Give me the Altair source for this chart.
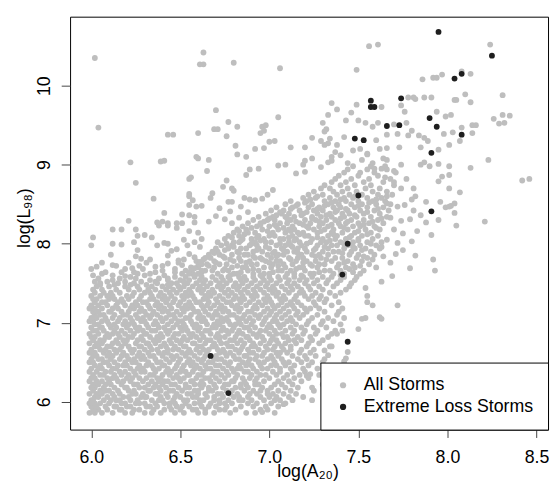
import altair as alt
import pandas as pd

# ---------------- data ----------------
series_names = ["All Storms", "Extreme Loss Storms"]
series_colors = ["#BEBEBE", "#1E1E1E"]

x_ticks = [6.0, 6.5, 7.0, 7.5, 8.0, 8.5]
y_ticks = [6, 7, 8, 9, 10]

# extreme-loss storms (black points)
extreme_x = [7.95, 8.25, 8.08, 8.04, 7.74, 7.57, 7.57, 7.59, 7.90, 7.73, 7.66, 7.94,
             8.08, 7.48, 7.53, 7.91, 7.50, 7.91, 7.44, 7.41, 7.44, 6.67, 6.77]
extreme_y = [10.68, 10.38, 10.15, 10.09, 9.84, 9.81, 9.73, 9.73, 9.59, 9.50, 9.49, 9.48,
             9.38, 9.33, 9.31, 9.15, 8.61, 8.41, 8.00, 7.61, 6.76, 6.58, 6.11]

# all storms, dense part of the cloud: (log L98 level, [log A20 values])
gray_rows = [
    (5.86, [5.99, 6.02, 6.06, 6.12, 6.19, 6.23, 6.30, 6.34, 6.39, 6.47, 6.52, 6.60, 6.64, 6.69, 6.78, 6.87, 6.92, 7.03]),
    (5.90, [6.01, 6.04, 6.09, 6.16, 6.17, 6.24, 6.27, 6.35, 6.41, 6.45, 6.50, 6.57, 6.59, 6.64, 6.72, 6.75, 6.81, 6.95, 6.99]),
    (5.94, [6.00, 6.03, 6.08, 6.13, 6.14, 6.20, 6.22, 6.31, 6.33, 6.37, 6.44, 6.48, 6.51, 6.55, 6.62, 6.66, 6.70, 6.76, 6.84, 6.91, 6.98, 7.05]),
    (5.98, [5.99, 6.02, 6.05, 6.10, 6.17, 6.19, 6.25, 6.27, 6.30, 6.36, 6.41, 6.44, 6.47, 6.53, 6.58, 6.61, 6.67, 6.72, 6.75, 6.79, 6.88, 6.93, 7.01, 7.09]),
    (6.02, [6.00, 6.01, 6.07, 6.11, 6.14, 6.16, 6.22, 6.26, 6.34, 6.38, 6.40, 6.46, 6.52, 6.54, 6.61, 6.63, 6.69, 6.72, 6.77, 6.83, 6.85, 6.90, 6.97, 7.03, 7.06, 7.13, 7.24]),
    (6.06, [6.02, 6.04, 6.09, 6.13, 6.18, 6.21, 6.28, 6.30, 6.31, 6.39, 6.43, 6.47, 6.50, 6.57, 6.59, 6.65, 6.69, 6.74, 6.80, 6.83, 6.88, 6.95, 7.00, 7.04, 7.11, 7.19]),
    (6.10, [5.99, 6.03, 6.06, 6.12, 6.16, 6.23, 6.25, 6.29, 6.36, 6.37, 6.42, 6.48, 6.54, 6.56, 6.60, 6.64, 6.71, 6.73, 6.78, 6.82, 6.89, 6.93, 6.99, 7.02, 7.08, 7.15]),
    (6.14, [6.01, 6.05, 6.08, 6.10, 6.15, 6.21, 6.24, 6.32, 6.33, 6.39, 6.44, 6.46, 6.51, 6.58, 6.60, 6.66, 6.68, 6.76, 6.79, 6.86, 6.91, 6.95, 6.99, 7.05, 7.12, 7.25]),
    (6.18, [6.00, 6.02, 6.07, 6.13, 6.19, 6.20, 6.27, 6.30, 6.35, 6.38, 6.42, 6.49, 6.53, 6.55, 6.62, 6.66, 6.70, 6.74, 6.81, 6.84, 6.88, 6.96, 7.01, 7.09, 7.16]),
    (6.22, [6.01, 6.04, 6.08, 6.11, 6.17, 6.24, 6.26, 6.32, 6.36, 6.40, 6.45, 6.47, 6.53, 6.58, 6.61, 6.63, 6.69, 6.75, 6.77, 6.84, 6.87, 6.92, 6.94, 7.03, 7.07, 7.13, 7.30]),
    (6.26, [5.99, 6.03, 6.06, 6.10, 6.15, 6.18, 6.22, 6.29, 6.34, 6.38, 6.41, 6.43, 6.50, 6.56, 6.57, 6.62, 6.67, 6.72, 6.79, 6.80, 6.86, 6.92, 6.97, 7.05, 7.11, 7.18]),
    (6.30, [6.00, 6.02, 6.09, 6.12, 6.14, 6.20, 6.23, 6.27, 6.31, 6.37, 6.39, 6.46, 6.49, 6.52, 6.59, 6.64, 6.66, 6.70, 6.75, 6.81, 6.85, 6.89, 6.93, 7.00, 7.08, 7.14, 7.22]),
    (6.34, [6.01, 6.05, 6.07, 6.13, 6.17, 6.21, 6.25, 6.33, 6.35, 6.40, 6.44, 6.48, 6.54, 6.55, 6.60, 6.62, 6.68, 6.73, 6.77, 6.82, 6.90, 6.95, 6.98, 7.04, 7.10, 7.17, 7.28]),
    (6.38, [5.99, 6.03, 6.08, 6.11, 6.16, 6.19, 6.24, 6.28, 6.30, 6.36, 6.42, 6.45, 6.50, 6.53, 6.57, 6.63, 6.69, 6.71, 6.76, 6.80, 6.86, 6.88, 6.93, 7.02, 7.06, 7.13, 7.20]),
    (6.42, [6.00, 6.04, 6.06, 6.12, 6.14, 6.22, 6.26, 6.29, 6.35, 6.38, 6.43, 6.47, 6.51, 6.58, 6.61, 6.65, 6.67, 6.74, 6.79, 6.82, 6.84, 6.91, 6.96, 6.99, 7.06, 7.12, 7.19, 7.27]),
    (6.46, [6.02, 6.05, 6.10, 6.15, 6.18, 6.20, 6.27, 6.31, 6.34, 6.40, 6.41, 6.48, 6.52, 6.56, 6.59, 6.64, 6.70, 6.72, 6.77, 6.83, 6.87, 6.90, 6.95, 7.01, 7.04, 7.09, 7.14, 7.22]),
    (6.50, [5.99, 6.01, 6.07, 6.09, 6.13, 6.19, 6.23, 6.25, 6.32, 6.37, 6.39, 6.44, 6.49, 6.54, 6.57, 6.62, 6.66, 6.68, 6.75, 6.78, 6.85, 6.88, 6.94, 6.97, 7.03, 7.08, 7.11, 7.18, 7.24]),
    (6.54, [6.00, 6.04, 6.06, 6.11, 6.16, 6.21, 6.24, 6.28, 6.30, 6.36, 6.42, 6.46, 6.50, 6.55, 6.60, 6.63, 6.69, 6.71, 6.73, 6.81, 6.83, 6.89, 6.92, 6.99, 7.02, 7.07, 7.16, 7.21, 7.31]),
    (6.58, [6.01, 6.03, 6.09, 6.12, 6.17, 6.20, 6.26, 6.29, 6.33, 6.35, 6.40, 6.45, 6.48, 6.53, 6.58, 6.64, 6.67, 6.70, 6.76, 6.80, 6.86, 6.87, 6.93, 6.96, 7.01, 7.05, 7.13, 7.20, 7.26]),
    (6.62, [5.99, 6.02, 6.07, 6.10, 6.14, 6.18, 6.23, 6.27, 6.32, 6.38, 6.41, 6.43, 6.51, 6.54, 6.56, 6.61, 6.65, 6.72, 6.75, 6.78, 6.83, 6.89, 6.91, 6.97, 7.04, 7.06, 7.10, 7.17, 7.23]),
    (6.66, [6.00, 6.05, 6.08, 6.13, 6.16, 6.22, 6.24, 6.30, 6.34, 6.37, 6.43, 6.46, 6.49, 6.55, 6.59, 6.63, 6.66, 6.71, 6.74, 6.81, 6.84, 6.88, 6.94, 6.99, 7.02, 7.08, 7.12, 7.18, 7.25]),
    (6.70, [6.02, 6.04, 6.09, 6.11, 6.17, 6.21, 6.27, 6.28, 6.33, 6.39, 6.42, 6.47, 6.52, 6.53, 6.60, 6.62, 6.68, 6.70, 6.77, 6.79, 6.85, 6.90, 6.92, 6.98, 7.03, 7.07, 7.12, 7.21, 7.34]),
    (6.74, [5.99, 6.03, 6.06, 6.12, 6.15, 6.19, 6.25, 6.31, 6.32, 6.36, 6.41, 6.45, 6.50, 6.57, 6.58, 6.64, 6.69, 6.73, 6.76, 6.82, 6.86, 6.91, 6.95, 7.00, 7.05, 7.09, 7.15, 7.22, 7.28]),
    (6.78, [6.01, 6.05, 6.07, 6.14, 6.18, 6.20, 6.26, 6.29, 6.35, 6.38, 6.44, 6.48, 6.51, 6.54, 6.61, 6.65, 6.67, 6.72, 6.78, 6.80, 6.84, 6.89, 6.97, 7.01, 7.04, 7.11, 7.14, 7.18, 7.24, 7.30]),
    (6.82, [6.00, 6.02, 6.08, 6.10, 6.16, 6.21, 6.23, 6.28, 6.33, 6.37, 6.40, 6.46, 6.52, 6.56, 6.59, 6.63, 6.70, 6.72, 6.75, 6.81, 6.87, 6.88, 6.93, 6.96, 7.02, 7.08, 7.10, 7.16, 7.23, 7.33]),
    (6.86, [5.99, 6.04, 6.09, 6.12, 6.15, 6.19, 6.24, 6.30, 6.31, 6.39, 6.43, 6.47, 6.49, 6.55, 6.57, 6.62, 6.67, 6.71, 6.77, 6.82, 6.85, 6.91, 6.94, 7.00, 7.04, 7.07, 7.13, 7.19, 7.26, 7.35]),
    (6.90, [6.01, 6.03, 6.07, 6.13, 6.17, 6.22, 6.26, 6.29, 6.34, 6.36, 6.42, 6.44, 6.51, 6.54, 6.60, 6.64, 6.66, 6.73, 6.76, 6.79, 6.83, 6.89, 6.95, 6.98, 7.03, 7.09, 7.14, 7.20, 7.27, 7.37]),
    (6.94, [6.00, 6.05, 6.06, 6.11, 6.14, 6.20, 6.25, 6.27, 6.32, 6.38, 6.41, 6.46, 6.50, 6.53, 6.58, 6.61, 6.68, 6.70, 6.74, 6.80, 6.86, 6.88, 6.92, 6.99, 7.01, 7.06, 7.12, 7.18, 7.25, 7.32]),
    (6.98, [6.02, 6.04, 6.10, 6.13, 6.18, 6.21, 6.24, 6.31, 6.35, 6.37, 6.43, 6.48, 6.52, 6.57, 6.59, 6.65, 6.69, 6.72, 6.78, 6.81, 6.84, 6.90, 6.96, 7.00, 7.05, 7.08, 7.15, 7.21, 7.29, 7.40]),
    (7.02, [5.99, 6.01, 6.06, 6.09, 6.15, 6.19, 6.23, 6.28, 6.30, 6.36, 6.40, 6.45, 6.49, 6.51, 6.56, 6.62, 6.64, 6.71, 6.74, 6.77, 6.83, 6.87, 6.91, 6.97, 7.02, 7.04, 7.10, 7.13, 7.22, 7.30, 7.36]),
    (7.06, [6.00, 6.03, 6.08, 6.12, 6.16, 6.22, 6.26, 6.29, 6.33, 6.39, 6.42, 6.47, 6.53, 6.55, 6.60, 6.63, 6.68, 6.73, 6.76, 6.82, 6.85, 6.89, 6.94, 6.98, 7.03, 7.07, 7.12, 7.17, 7.24, 7.33, 7.42]),
    (7.10, [6.02, 6.05, 6.07, 6.13, 6.18, 6.20, 6.25, 6.31, 6.34, 6.37, 6.44, 6.46, 6.50, 6.56, 6.61, 6.66, 6.69, 6.71, 6.78, 6.80, 6.86, 6.92, 6.95, 7.00, 7.04, 7.09, 7.15, 7.19, 7.27, 7.38]),
    (7.14, [6.01, 6.04, 6.10, 6.11, 6.17, 6.21, 6.27, 6.30, 6.35, 6.40, 6.43, 6.48, 6.52, 6.58, 6.60, 6.64, 6.70, 6.74, 6.77, 6.83, 6.88, 6.90, 6.97, 7.01, 7.06, 7.11, 7.16, 7.21, 7.31, 7.39]),
    (7.18, [5.99, 6.02, 6.06, 6.12, 6.15, 6.22, 6.24, 6.28, 6.33, 6.38, 6.41, 6.45, 6.51, 6.54, 6.57, 6.63, 6.67, 6.72, 6.75, 6.81, 6.84, 6.91, 6.93, 6.99, 7.03, 7.08, 7.14, 7.20, 7.23, 7.28, 7.41]),
    (7.22, [6.00, 6.04, 6.09, 6.14, 6.19, 6.23, 6.26, 6.32, 6.36, 6.39, 6.44, 6.49, 6.53, 6.56, 6.62, 6.65, 6.69, 6.73, 6.79, 6.82, 6.87, 6.92, 6.96, 7.02, 7.05, 7.10, 7.13, 7.18, 7.26, 7.35]),
    (7.26, [6.02, 6.06, 6.08, 6.15, 6.18, 6.25, 6.29, 6.31, 6.37, 6.42, 6.46, 6.50, 6.55, 6.59, 6.61, 6.66, 6.71, 6.76, 6.78, 6.84, 6.89, 6.94, 6.98, 7.01, 7.07, 7.12, 7.16, 7.25, 7.31, 7.39]),
    (7.30, [6.01, 6.03, 6.10, 6.13, 6.17, 6.21, 6.27, 6.33, 6.35, 6.40, 6.43, 6.47, 6.52, 6.58, 6.63, 6.65, 6.70, 6.74, 6.80, 6.83, 6.86, 6.91, 6.97, 7.00, 7.06, 7.09, 7.14, 7.22, 7.28, 7.32]),
    (7.34, [6.00, 6.05, 6.09, 6.12, 6.20, 6.23, 6.28, 6.34, 6.38, 6.41, 6.45, 6.51, 6.54, 6.57, 6.64, 6.67, 6.72, 6.77, 6.81, 6.85, 6.90, 6.93, 6.99, 7.04, 7.08, 7.15, 7.20, 7.24, 7.29, 7.37]),
    (7.38, [6.02, 6.07, 6.11, 6.16, 6.24, 6.30, 6.33, 6.39, 6.44, 6.48, 6.53, 6.56, 6.62, 6.66, 6.69, 6.75, 6.79, 6.84, 6.88, 6.92, 6.97, 7.02, 7.05, 7.11, 7.17, 7.19, 7.26, 7.34, 7.40]),
    (7.42, [6.01, 6.06, 6.14, 6.21, 6.27, 6.32, 6.36, 6.42, 6.46, 6.50, 6.55, 6.60, 6.63, 6.68, 6.73, 6.77, 6.82, 6.86, 6.91, 6.95, 7.00, 7.03, 7.09, 7.13, 7.18, 7.23, 7.30, 7.43]),
    (7.46, [6.03, 6.10, 6.19, 6.26, 6.34, 6.40, 6.44, 6.49, 6.52, 6.57, 6.61, 6.65, 6.71, 6.74, 6.80, 6.83, 6.88, 6.93, 6.98, 7.02, 7.07, 7.12, 7.16, 7.22, 7.28, 7.36, 7.45]),
    (7.50, [6.05, 6.15, 6.24, 6.37, 6.45, 6.48, 6.54, 6.59, 6.63, 6.67, 6.72, 6.76, 6.81, 6.85, 6.90, 6.95, 6.99, 7.04, 7.10, 7.14, 7.20, 7.25, 7.32, 7.38, 7.46]),
    (7.54, [6.12, 6.33, 6.43, 6.50, 6.55, 6.61, 6.64, 6.70, 6.74, 6.78, 6.84, 6.87, 6.92, 6.97, 7.01, 7.06, 7.11, 7.17, 7.21, 7.27, 7.33, 7.40, 7.48]),
    (7.58, [6.22, 6.47, 6.53, 6.58, 6.62, 6.68, 6.73, 6.77, 6.83, 6.86, 6.91, 6.96, 7.00, 7.05, 7.09, 7.14, 7.19, 7.24, 7.30, 7.35, 7.42, 7.49]),
    (7.62, [6.51, 6.57, 6.60, 6.71, 6.80, 6.82, 6.91, 6.97, 7.00, 7.10, 7.14, 7.23, 7.25, 7.36, 7.42, 7.51]),
    (7.66, [6.53, 6.64, 6.68, 6.74, 6.77, 6.88, 6.94, 7.05, 7.07, 7.12, 7.20, 7.31, 7.34, 7.40, 7.53]),
    (7.70, [6.56, 6.60, 6.69, 6.79, 6.85, 6.87, 6.97, 7.01, 7.09, 7.17, 7.19, 7.27, 7.38, 7.43, 7.48]),
    (7.74, [6.62, 6.65, 6.72, 6.76, 6.90, 6.93, 7.02, 7.08, 7.13, 7.23, 7.28, 7.31, 7.39, 7.47, 7.56]),
    (7.78, [6.59, 6.69, 6.80, 6.84, 6.89, 6.98, 7.04, 7.06, 7.15, 7.21, 7.26, 7.35, 7.44, 7.52]),
    (7.82, [6.64, 6.67, 6.75, 6.83, 6.92, 6.95, 7.01, 7.11, 7.16, 7.19, 7.29, 7.37, 7.41, 7.49, 7.55]),
    (7.86, [6.66, 6.72, 6.79, 6.86, 6.88, 6.99, 7.05, 7.08, 7.18, 7.24, 7.28, 7.33, 7.45, 7.50, 7.59]),
    (7.90, [6.68, 6.71, 6.82, 6.91, 6.96, 7.03, 7.10, 7.14, 7.21, 7.30, 7.36, 7.39, 7.46, 7.57]),
    (7.94, [6.70, 6.77, 6.84, 6.87, 6.94, 7.00, 7.07, 7.16, 7.20, 7.26, 7.33, 7.42, 7.48, 7.54, 7.62]),
    (7.98, [6.73, 6.79, 6.89, 6.93, 7.04, 7.09, 7.12, 7.18, 7.27, 7.35, 7.38, 7.44, 7.51, 7.60]),
    (8.02, [6.71, 6.80, 6.83, 6.92, 6.98, 7.01, 7.11, 7.17, 7.23, 7.29, 7.32, 7.40, 7.47, 7.55, 7.63]),
    (8.06, [6.75, 6.85, 6.90, 6.97, 7.06, 7.08, 7.15, 7.24, 7.30, 7.37, 7.43, 7.50, 7.58]),
    (8.10, [6.77, 6.83, 6.94, 7.00, 7.03, 7.13, 7.20, 7.22, 7.33, 7.38, 7.46, 7.52, 7.61]),
    (8.14, [6.80, 6.88, 6.92, 7.02, 7.09, 7.16, 7.19, 7.27, 7.35, 7.41, 7.48, 7.57]),
    (8.18, [6.82, 6.87, 6.96, 7.05, 7.11, 7.14, 7.25, 7.31, 7.36, 7.44, 7.54, 7.62]),
    (8.22, [6.85, 6.93, 7.00, 7.04, 7.13, 7.21, 7.28, 7.33, 7.40, 7.47, 7.51, 7.59]),
    (8.26, [6.88, 6.95, 7.06, 7.10, 7.17, 7.23, 7.30, 7.39, 7.43, 7.50, 7.56, 7.64]),
    (8.30, [6.91, 6.99, 7.03, 7.12, 7.20, 7.26, 7.32, 7.37, 7.46, 7.53, 7.61]),
    (8.34, [6.94, 7.02, 7.09, 7.14, 7.24, 7.29, 7.35, 7.42, 7.49, 7.57, 7.66]),
    (8.38, [6.98, 7.07, 7.11, 7.19, 7.27, 7.34, 7.41, 7.45, 7.53, 7.62]),
    (8.42, [7.01, 7.08, 7.17, 7.25, 7.30, 7.38, 7.44, 7.51, 7.59, 7.67]),
    (8.46, [7.04, 7.13, 7.22, 7.28, 7.36, 7.40, 7.48, 7.55, 7.64]),
    (8.50, [7.09, 7.16, 7.24, 7.33, 7.39, 7.46, 7.52, 7.60, 7.68]),
    (8.54, [7.12, 7.21, 7.31, 7.37, 7.43, 7.50, 7.58, 7.65]),
    (8.58, [7.19, 7.26, 7.34, 7.42, 7.47, 7.55, 7.63]),
    (8.62, [7.22, 7.30, 7.38, 7.45, 7.52, 7.61, 7.69]),
    (8.66, [7.25, 7.36, 7.41, 7.49, 7.58, 7.66]),
    (8.70, [7.29, 7.34, 7.44, 7.54, 7.62]),
    (8.74, [7.31, 7.40, 7.48, 7.57, 7.70]),
    (8.78, [7.35, 7.43, 7.53, 7.64]),
    (8.82, [7.37, 7.46, 7.56, 7.68]),
    (8.86, [7.39, 7.50, 7.61]),
    (8.90, [7.42, 7.51, 7.59, 7.71]),
    (8.94, [7.44, 7.55, 7.66]),
    (8.98, [7.47, 7.57, 7.65]),
    # in-between levels of the upper part of the cloud
    (7.48, [6.05, 6.13, 6.22, 6.31, 6.43]),
    (7.52, [6.02, 6.09, 6.19, 6.28, 6.36, 6.52]),
    (7.56, [6.04, 6.16, 6.25, 6.38, 6.43]),
    (7.60, [6.01, 6.12, 6.30, 6.41, 6.58, 6.78, 6.95, 7.18, 7.40]),
    (7.64, [6.08, 6.24, 6.36, 6.55, 6.62, 6.84, 7.02, 7.28, 7.47]),
    (7.68, [6.00, 6.19, 6.29, 6.47, 6.57, 6.75, 6.91, 7.15, 7.45]),
    (7.72, [6.14, 6.27, 6.40, 6.60, 6.66, 6.82, 7.05, 7.24, 7.51]),
    (7.76, [6.06, 6.21, 6.49, 6.70, 6.87, 7.00, 7.19, 7.42]),
    (7.80, [6.33, 6.52, 6.63, 6.78, 6.96, 7.12, 7.32, 7.58]),
    (7.84, [6.74, 6.91, 7.04, 7.26, 7.53]),
    (7.88, [6.69, 6.83, 7.02, 7.16, 7.41]),
    (7.92, [6.75, 6.93, 7.08, 7.25, 7.52]),
    (7.96, [6.80, 6.98, 7.13, 7.31, 7.47]),
    (8.00, [6.76, 6.90, 7.06, 7.21, 7.42, 7.57]),
    (8.04, [6.84, 6.95, 7.14, 7.34, 7.50]),
    (8.08, [6.79, 6.93, 7.11, 7.27, 7.45]),
    (8.12, [6.86, 7.01, 7.17, 7.36, 7.55]),
    (8.16, [6.83, 6.99, 7.12, 7.29, 7.50]),
    (8.20, [6.90, 7.08, 7.22, 7.42, 7.60]),
    (8.24, [6.95, 7.03, 7.19, 7.35, 7.53]),
    (8.28, [6.97, 7.15, 7.28, 7.44, 7.58]),
    (8.32, [7.00, 7.10, 7.24, 7.40, 7.63]),
    (8.36, [7.04, 7.18, 7.32, 7.48]),
    (8.40, [7.06, 7.21, 7.37, 7.55]),
    (8.44, [7.12, 7.27, 7.43, 7.61]),
    (8.48, [7.15, 7.31, 7.50]),
    (8.52, [7.20, 7.35, 7.56]),
    (8.56, [7.23, 7.40, 7.60]),
    (8.60, [7.27, 7.48, 7.66]),
]

# all storms, scattered points outside the dense cloud: (log A20, log L98)
gray_outliers = [
    (6.02, 10.35), (6.04, 9.47), (6.43, 9.38), (6.46, 9.38), (6.60, 9.40), (6.61, 10.27),
    (6.63, 10.27), (6.63, 10.42), (6.22, 9.03), (6.39, 9.04), (6.41, 9.05), (6.59, 9.10),
    (6.60, 9.08), (6.25, 8.77), (6.55, 8.82), (6.56, 8.84), (6.35, 8.57), (6.55, 8.63),
    (6.55, 8.60), (6.57, 8.55), (6.55, 8.49), (6.59, 8.47), (6.62, 8.48), (6.41, 8.39),
    (6.21, 8.29), (6.51, 8.37), (6.55, 8.36), (6.58, 8.34), (6.37, 8.27), (6.40, 8.28),
    (6.43, 8.26), (6.48, 8.26), (6.51, 8.26), (6.58, 8.27),
    (6.80, 10.29), (7.06, 10.22), (6.70, 9.69), (6.77, 9.54), (6.82, 9.48), (6.69, 9.45),
    (6.71, 9.45), (6.96, 9.48), (6.98, 9.50), (6.95, 9.40), (6.97, 9.43), (6.76, 9.36),
    (7.05, 9.60), (7.35, 9.78), (7.33, 9.63), (7.30, 9.53), (7.31, 9.42), (7.32, 9.45),
    (7.24, 9.34), (6.81, 9.24), (7.00, 9.29), (7.03, 9.30), (6.92, 9.20), (6.97, 9.21),
    (7.12, 9.22), (7.20, 9.22), (7.29, 9.30), (7.31, 9.25), (7.33, 9.27), (7.34, 9.33),
    (6.82, 9.13), (6.87, 9.10), (6.66, 9.06), (6.65, 8.92), (6.89, 8.94), (6.94, 8.95),
    (6.87, 8.87), (7.05, 8.99), (7.09, 9.00), (7.15, 8.89), (7.19, 9.00), (7.20, 9.05),
    (7.20, 8.91), (7.24, 9.08), (7.29, 8.97), (7.33, 9.03), (7.35, 9.10), (6.76, 8.80),
    (6.74, 8.72), (6.79, 8.70), (6.80, 8.67), (6.68, 8.64), (6.67, 8.58), (6.86, 8.58),
    (6.89, 8.56), (6.77, 8.53), (6.79, 8.53), (6.92, 8.55), (6.96, 8.57), (6.99, 8.62),
    (7.02, 8.68), (6.72, 8.45), (6.78, 8.41), (6.84, 8.47), (6.70, 8.35), (6.75, 8.31),
    (6.66, 8.28), (6.88, 8.40), (6.79, 8.26), (6.83, 8.33),
    (6.12, 8.18), (6.17, 8.18), (6.01, 8.08), (6.00, 7.98), (6.25, 8.18), (6.26, 8.10),
    (6.30, 8.11), (6.34, 8.08), (6.38, 8.23), (6.43, 8.23), (6.48, 8.20), (6.52, 8.05),
    (6.55, 8.16), (6.60, 8.14), (6.62, 8.06), (6.12, 8.00), (6.17, 7.99), (6.24, 8.02),
    (6.26, 7.92), (6.37, 7.98), (6.41, 8.01), (6.43, 8.00), (6.45, 7.91), (6.48, 7.93),
    (6.54, 7.98), (6.58, 8.02), (6.61, 7.96), (6.11, 7.86), (6.25, 7.84), (6.28, 7.81),
    (6.43, 7.85), (6.49, 7.79), (6.55, 7.87), (6.58, 7.83), (6.61, 7.77), (6.03, 7.71),
    (6.06, 7.62), (6.12, 7.73), (6.17, 7.64), (6.19, 7.59), (6.23, 7.69), (6.26, 7.62),
    (6.31, 7.76), (6.33, 7.62), (6.36, 7.71), (6.40, 7.66), (6.43, 7.75), (6.47, 7.64),
    (6.51, 7.73), (6.55, 7.62), (6.58, 7.69), (6.62, 7.66),
    (8.21, 8.28), (8.05, 8.23), (8.04, 8.39), (8.02, 8.48), (7.99, 8.46), (7.93, 7.66),
    (7.92, 7.80), (7.82, 7.85), (7.79, 7.69), (7.75, 7.92), (7.71, 7.87), (7.69, 7.59),
    (7.72, 7.22), (7.63, 7.52), (7.62, 7.07), (7.63, 7.05), (7.58, 7.22), (7.55, 7.26),
    (7.54, 7.44), (7.55, 7.34), (7.52, 7.05), (7.54, 7.06), (7.50, 6.92), (7.44, 6.63),
    (7.43, 6.55), (7.38, 6.86), (7.41, 6.90), (7.35, 6.70), (7.42, 6.51), (7.33, 6.59),
    (7.31, 6.65), (7.66, 8.51), (7.72, 8.47), (7.76, 8.49), (7.81, 8.42), (7.85, 8.36),
    (7.68, 8.33), (7.74, 8.29), (7.79, 8.31), (7.70, 8.18), (7.75, 8.13), (7.83, 8.16),
    (7.88, 8.27), (7.66, 8.05), (7.72, 8.01), (7.80, 8.03), (7.91, 8.11), (7.95, 8.30),
    (7.63, 7.96), (7.68, 7.76), (7.60, 7.70), (7.64, 7.84), (7.30, 6.50), (7.24, 6.18),
    (7.21, 6.33), (7.23, 6.35), (7.08, 5.97), (6.96, 5.87),
    (7.56, 10.50), (7.61, 10.52), (8.24, 10.52), (7.49, 10.20), (7.86, 10.08), (7.92, 10.10),
    (7.94, 10.10), (7.97, 10.14), (8.08, 10.18), (8.13, 10.15), (7.49, 9.76), (7.38, 9.70),
    (7.46, 9.66), (7.43, 9.56), (7.50, 9.56), (7.54, 9.53), (7.58, 9.48), (7.63, 9.73),
    (7.61, 9.53), (7.74, 9.75), (7.78, 9.85), (7.81, 9.85), (7.82, 9.83), (7.87, 9.85),
    (7.91, 9.85), (7.76, 9.67), (8.04, 9.82), (8.05, 9.82), (8.10, 9.89), (8.13, 9.79),
    (8.31, 9.88), (8.31, 9.63), (8.35, 9.62), (8.26, 9.58), (8.29, 9.52), (8.32, 9.53),
    (7.99, 9.61), (8.02, 9.63), (7.94, 9.67), (8.08, 9.47), (8.14, 9.50), (8.16, 9.50),
    (8.14, 9.40), (8.07, 9.30), (8.01, 9.25), (7.98, 9.39), (8.03, 9.41), (7.95, 9.19),
    (7.85, 9.22), (7.89, 9.30), (7.87, 9.34), (7.73, 9.22), (7.72, 9.39), (7.78, 9.37),
    (7.84, 9.37), (7.80, 9.43), (7.70, 9.51), (7.77, 9.53), (7.62, 9.20), (7.66, 9.21),
    (7.55, 9.13), (7.64, 9.08), (7.66, 9.06), (7.85, 9.00), (7.87, 9.03), (7.90, 8.98),
    (7.95, 9.01), (8.01, 8.98), (8.23, 9.06), (8.13, 8.96), (8.42, 8.80), (8.46, 8.82),
    (7.70, 8.78), (7.77, 8.82), (7.81, 8.70), (7.74, 8.70), (7.95, 8.79), (7.97, 8.85),
    (8.01, 8.87), (8.07, 8.65), (8.01, 8.70), (7.96, 8.53), (8.01, 8.47), (8.04, 8.51),
    (7.88, 8.53), (7.82, 8.60), (7.80, 8.56), (7.59, 8.95), (7.63, 8.95), (7.65, 8.84),
    (7.51, 9.20), (7.55, 9.14), (7.35, 9.05), (7.40, 9.12), (7.44, 9.02), (7.47, 9.18),
    (7.52, 9.06), (7.38, 9.25), (7.42, 9.35), (7.37, 9.16), (7.58, 9.02), (7.70, 8.92),
    (7.74, 9.00), (7.60, 9.31), (7.66, 9.38),
]

# ---------------- table ----------------
recs = []
for yv, xs in gray_rows:
    for xv in xs:
        recs.append({"a20": xv, "l98": yv, "group": series_names[0]})
for xv, yv in gray_outliers:
    recs.append({"a20": xv, "l98": yv, "group": series_names[0]})
for xv, yv in zip(extreme_x, extreme_y):
    recs.append({"a20": xv, "l98": yv, "group": series_names[1]})
df = pd.DataFrame(recs)

FONT = "Liberation Sans"

chart = alt.Chart(df).mark_circle(size=35, opacity=1).encode(
    x=alt.X("a20:Q",
            scale=alt.Scale(domain=[5.881, 8.565], nice=False, zero=False),
            axis=alt.Axis(values=x_ticks, format=".1f", title="log(A₂₀)",
                          grid=False, domain=False, tickSize=8, tickColor="#444",
                          labelFontSize=18, labelFont=FONT, labelColor="black",
                          labelBaseline="alphabetic", labelPadding=25,
                          titleFontSize=18, titleFont=FONT, titleColor="black",
                          titleFontWeight="normal", titleBaseline="alphabetic",
                          titleX=241, titleY=47.7)),
    y=alt.Y("l98:Q",
            scale=alt.Scale(domain=[5.648, 10.873], nice=False, zero=False),
            axis=alt.Axis(values=y_ticks, format="d", title="log(L₉₈)",
                          grid=False, domain=False, tickSize=9, tickColor="#444",
                          labelFontSize=18, labelFont=FONT, labelColor="black",
                          labelAngle=270, labelAlign="center", labelBaseline="alphabetic",
                          labelPadding=12,
                          titleFontSize=18, titleFont=FONT, titleColor="black",
                          titleFontWeight="normal", titleAngle=270, titleAlign="center",
                          titleBaseline="alphabetic", titleX=-41, titleY=204)),
    color=alt.Color("group:N",
                    scale=alt.Scale(domain=series_names, range=series_colors),
                    legend=alt.Legend(title=None, orient="bottom-right", offset=0,
                                      padding=14, strokeColor="black", fillColor="white",
                                      labelFontSize=18, labelFont=FONT, labelColor="black",
                                      labelLimit=400,
                                      symbolType="circle", symbolSize=40, symbolStrokeWidth=0,
                                      rowPadding=4, labelOffset=12, cornerRadius=0)),
).properties(
    width=485, height=419,
    padding={"left": 63, "top": 5.3, "right": 2, "bottom": 52},
    autosize=alt.AutoSizeParams(type="none"),
).configure_view(stroke="black", strokeWidth=1)

chart.save("out.html", embed_options={"renderer": "svg", "actions": False})
